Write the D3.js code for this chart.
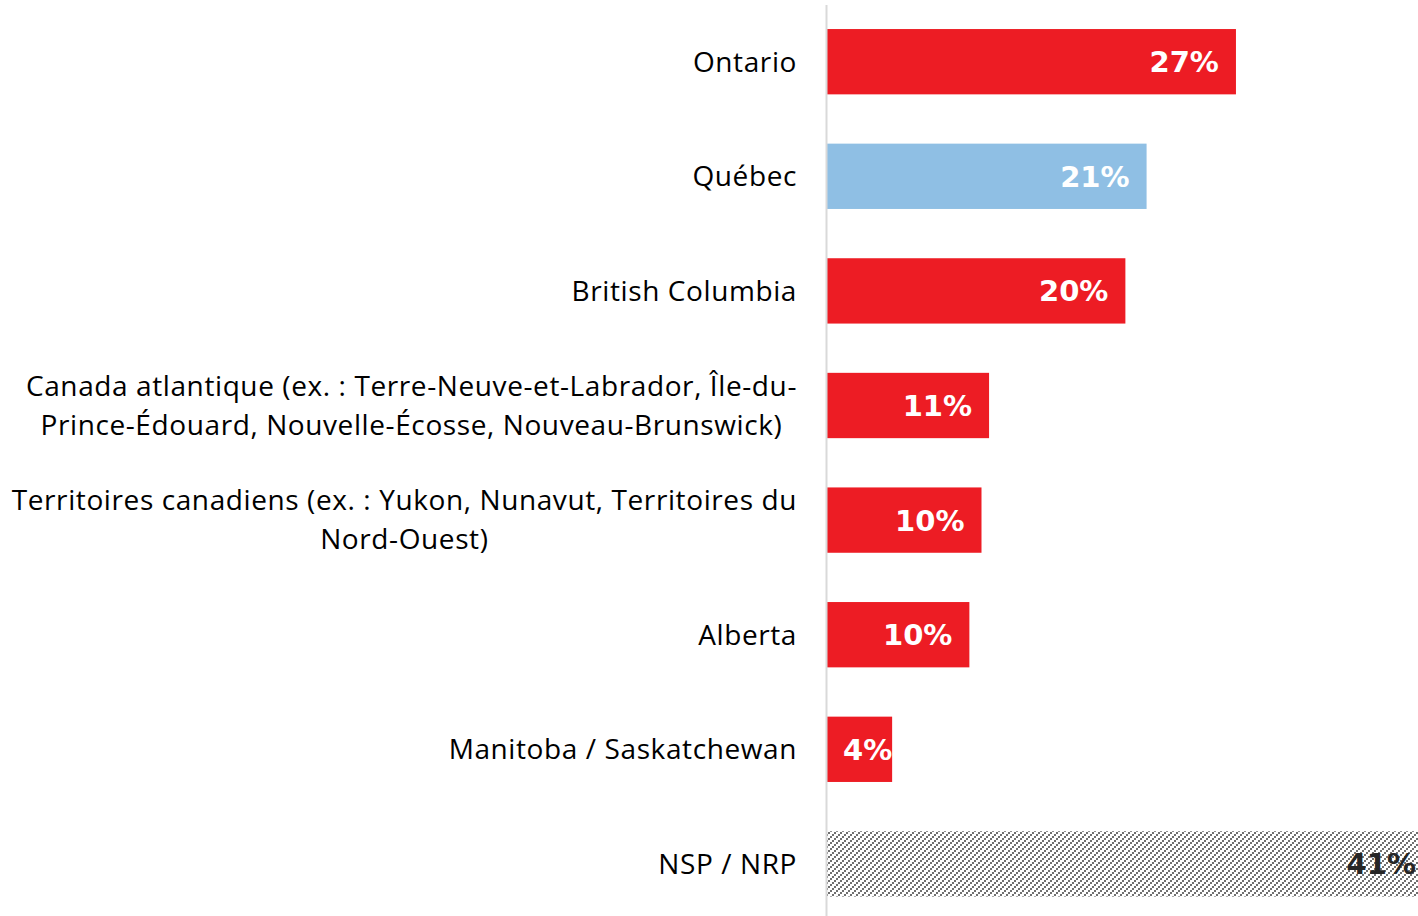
<!DOCTYPE html>
<html><head><meta charset="utf-8">
<script src="https://cdn.jsdelivr.net/npm/d3@7"></script>
<style>body{margin:0;background:#fff;overflow:hidden}svg{display:block}</style></head>
<body>
<svg id="chart" width="1418" height="916"></svg>
<script>
const categories = [
  "Ontario",
  "Québec",
  "British Columbia",
  "Canada atlantique (ex. : Terre-Neuve-et-Labrador, Île-du-\nPrince-Édouard, Nouvelle-Écosse, Nouveau-Brunswick)",
  "Territoires canadiens (ex. : Yukon, Nunavut, Territoires du\nNord-Ouest)",
  "Alberta",
  "Manitoba / Saskatchewan",
  "NSP / NRP"
];
const values = [27.0, 21.1, 19.7, 10.7, 10.2, 9.4, 4.3, 41.0];
const valueLabels = ["27%", "21%", "20%", "11%", "10%", "10%", "4%", "41%"];
const barKinds = ["red", "blue", "red", "red", "red", "red", "red", "hatch"];

const W = 1418, H = 916;
const svg = d3.select("#chart");
const fills = {red: "#ED1C24", blue: "#8FBFE4", hatch: "url(#hatch)"};

const defs = svg.append("defs");
const pat = defs.append("pattern").attr("id", "hatch")
  .attr("patternUnits", "userSpaceOnUse").attr("width", 6).attr("height", 6);
pat.append("rect").attr("width", 6).attr("height", 6).attr("fill", "#fff");
[[4,0],[2,2],[0,4]].forEach(([a,b]) => pat.append("rect").attr("x", a).attr("y", b).attr("width", 2).attr("height", 2).attr("fill", "#707070"));

const x0 = 827;
const x = d3.scaleLinear().domain([0, 41]).range([x0, 1448]);
const y = d3.scaleBand().domain(d3.range(categories.length)).range([4.4, 921.2])
  .paddingInner(0.43).paddingOuter(0.215);

// bars
svg.append("g").selectAll("rect").data(values).join("rect")
  .attr("x", x(0)).attr("y", (d, i) => y(i))
  .attr("width", d => x(d) - x(0)).attr("height", y.bandwidth())
  .attr("fill", (d, i) => fills[barKinds[i]]);

// axis line
svg.append("line").attr("x1", x0 - 0.5).attr("x2", x0 - 0.5).attr("y1", 5).attr("y2", H)
  .attr("stroke", "#d9d9d9").attr("stroke-width", 2);

// value labels
const vl = svg.append("g").selectAll("text").data(values).join("text")
  .attr("y", (d, i) => y(i) + y.bandwidth() / 2)
  .attr("dy", "0.36em")
  .attr("text-anchor", "end")
  .attr("font-family", "DejaVu Sans")
  .attr("font-weight", "bold")
  .attr("font-size", 29)
  .attr("fill", (d, i) => barKinds[i] === "hatch" ? "#262626" : "#fff")
  .text((d, i) => valueLabels[i]);
vl.each(function(d) {
  const w = this.getComputedTextLength();
  let xe = Math.min(x(d) - 17, W - 2);
  xe = Math.max(xe, x0 + 16 + w);
  d3.select(this).attr("x", xe);
});

// category labels
const labelRight = 797, lineH = 39;
const cg = svg.append("g").attr("font-family", "Open Sans").attr("font-size", 28)
  .attr("letter-spacing", "0.6px").attr("fill", "#000");
categories.forEach((c, i) => {
  const lines = c.split("\n");
  const cy = y(i) + y.bandwidth() / 2;
  const t = cg.append("text");
  const tsp = lines.map((ln, k) => t.append("tspan").attr("y", cy + (k - (lines.length - 1) / 2) * lineH).attr("dy", "0.35em").text(ln));
  if (lines.length === 1) {
    t.attr("text-anchor", "end");
    tsp[0].attr("x", labelRight);
  } else {
    const maxW = d3.max(tsp, s => s.node().getComputedTextLength());
    t.attr("text-anchor", "middle");
    tsp.forEach(s => s.attr("x", labelRight - maxW / 2));
  }
});
</script>
</body></html>
